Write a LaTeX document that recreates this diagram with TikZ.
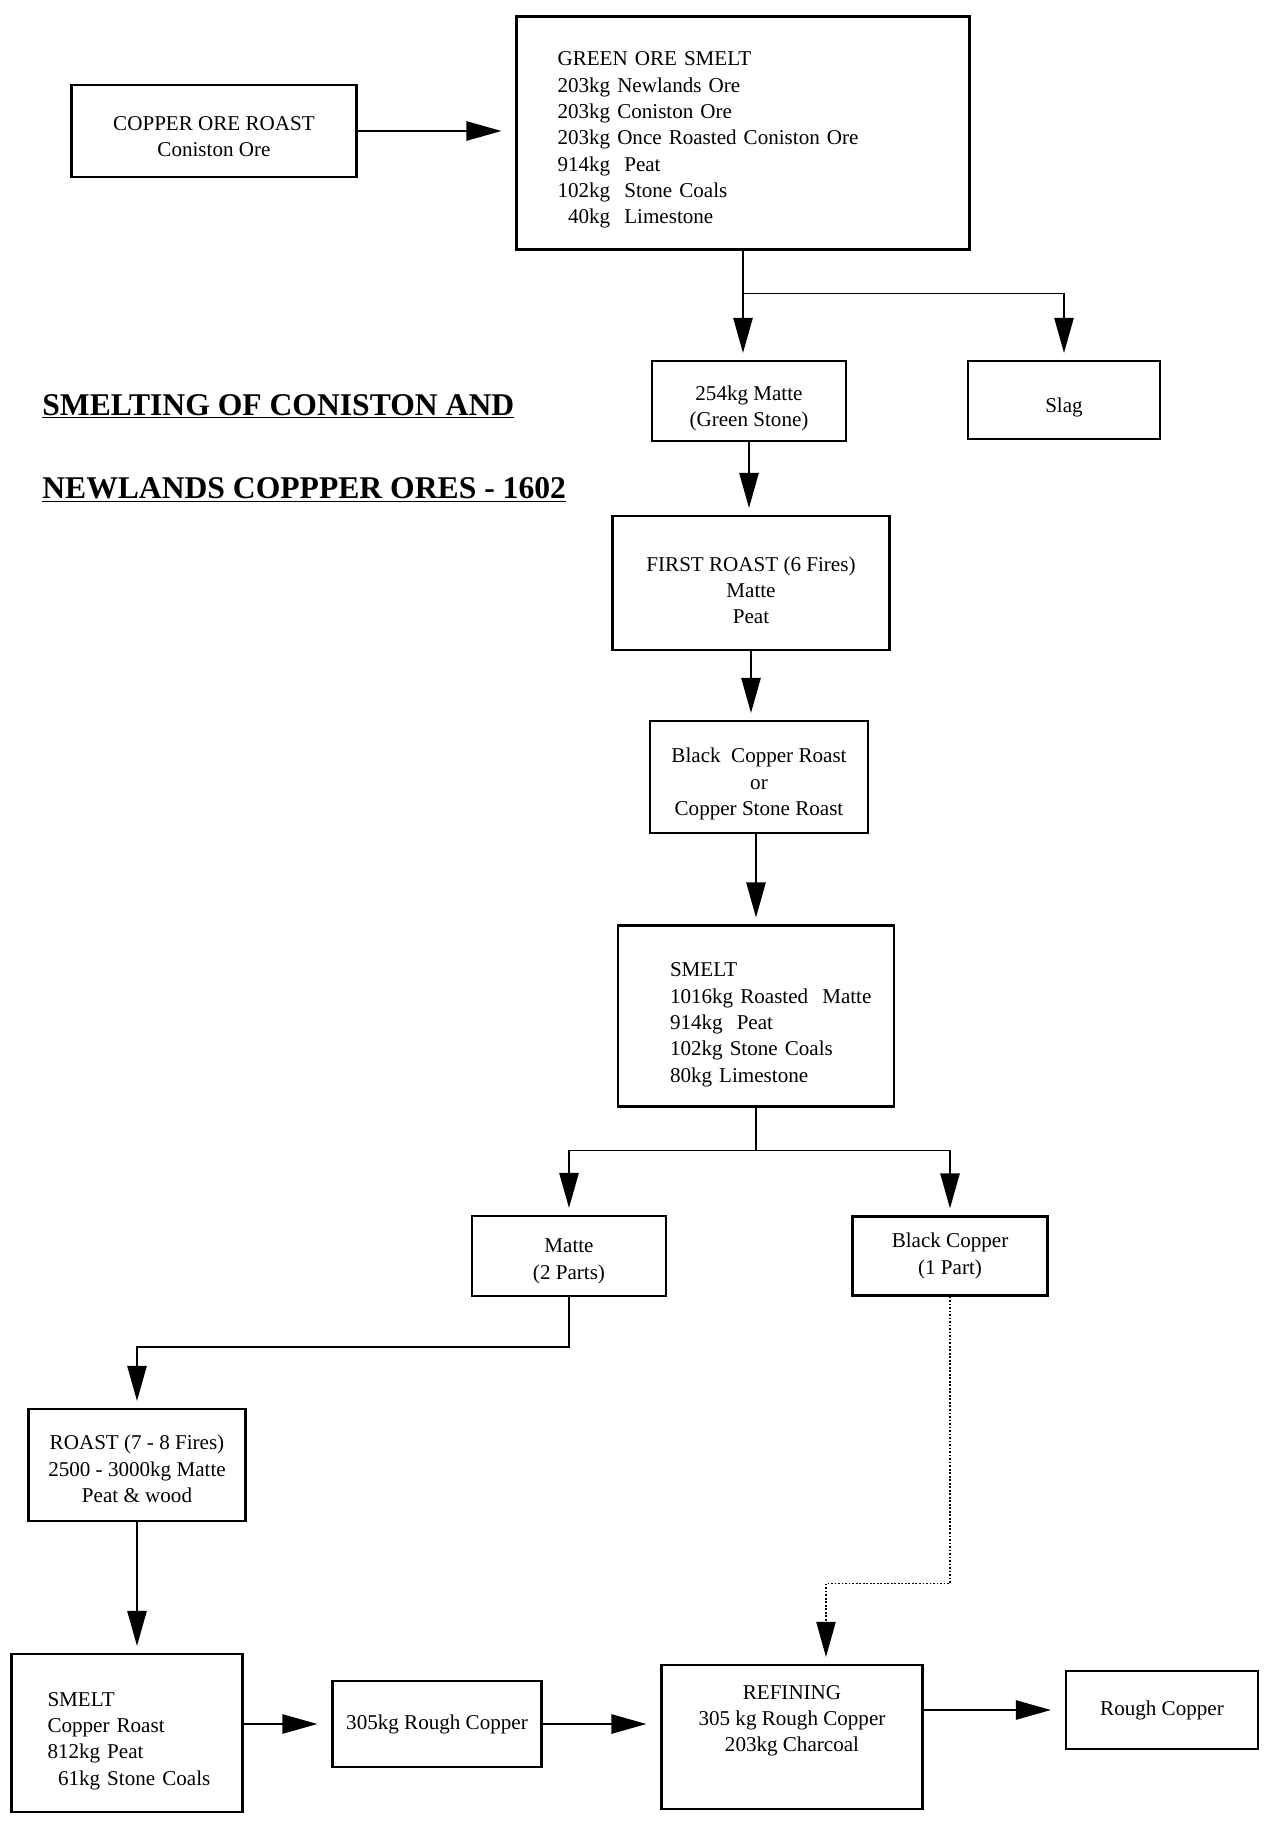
\documentclass[tikz,border=0pt]{standalone}
\usepackage{fontspec}
\setmainfont{Liberation Serif}
\usetikzlibrary{arrows.meta,positioning,calc}

\begin{document}
\begin{tikzpicture}[x=0.02cm, y=-0.02cm,
    box/.style={draw, line width=1.2pt, align=center, inner sep=2pt, font=\fontsize{12}{15}\selectfont},
    listbox/.style={box, align=left},
    padtop/.style={execute at begin node={\mbox{}\\[#1]}},
    padtop/.default=0pt,
    arr/.style={-{Triangle[length=20pt, width=11pt]}, line width=1pt, shorten >=4pt},
    harr/.style={arr, shorten >=8pt},
    title/.style={anchor=base west, inner sep=0pt, font=\fontsize{18}{22}\selectfont\bfseries}
]
\useasboundingbox (0,0) rectangle (1265,1822);

\node[box, minimum width=5.7cm, minimum height=1.84cm] (roast) at (214,131) {\mbox{}\\[-1pt]COPPER ORE ROAST\\Coniston Ore};
\node[listbox, padtop=1pt, text width=7.42cm, inner xsep=0.82cm, minimum height=4.66cm] (greensmelt) at (743,133) {GREEN ORE SMELT\\203kg Newlands Ore\\203kg Coniston Ore\\203kg Once Roasted Coniston Ore\\914kg\ \ Peat\\102kg\ \ Stone Coals\\\phantom{1}40kg\ \ Limestone};
\node[box, minimum width=3.88cm, minimum height=1.6cm] (matte) at (749,401) {\mbox{}\\[1.5pt]254kg Matte\\(Green Stone)};
\node[box, minimum width=3.84cm, minimum height=1.56cm] (slag) at (1064,400) {\mbox{}\\[1.5pt]Slag};
\node[box, minimum width=5.54cm, minimum height=2.68cm] (firstroast) at (751,583) {\mbox{}\\[1.5pt]FIRST ROAST (6 Fires)\\Matte\\Peat};
\node[box, minimum width=4.36cm, minimum height=2.24cm] (bcroast) at (759,777) {\mbox{}\\[1.5pt]Black\ \ Copper Roast\\or\\Copper Stone Roast};
\node[listbox, padtop=3pt, text width=3.44cm, inner xsep=1.04cm, minimum height=3.62cm] (smelt) at (756,1016) {SMELT\\\mbox{1016kg Roasted\ \ Matte}\\914kg\ \ Peat\\102kg Stone Coals\\80kg Limestone};
\node[box, minimum width=3.88cm, minimum height=1.6cm] (matteparts) at (569,1256) {\mbox{}\\[-1pt]Matte\\(2 Parts)};
\node[box, minimum width=3.9cm, minimum height=1.58cm] (blackcopper) at (950,1256) {Black Copper\\(1 Part)};
\node[box, minimum width=4.34cm, minimum height=2.24cm] (roastfires) at (137,1465) {\mbox{}\\[-2pt]ROAST (7 - 8 Fires)\\2500 - 3000kg Matte\\Peat \& wood};
\node[listbox, padtop=2pt, text width=3.18cm, inner xsep=0.72cm, minimum height=3.16cm] (smeltcu) at (127,1733) {SMELT\\Copper Roast\\812kg Peat\\\mbox{\phantom{8}61kg Stone Coals}};
\node[box, minimum width=4.18cm, minimum height=1.72cm] (roughcu) at (437,1724) {305kg Rough Copper};
\node[box, minimum width=5.22cm, minimum height=2.88cm] (refining) at (792,1737) {REFINING\\305 kg Rough Copper\\203kg Charcoal\\[6pt]\mbox{}};
\node[box, minimum width=3.84cm, minimum height=1.56cm] (roughcopper) at (1162,1710) {Rough Copper};

\node[title] (titlea) at (42,415) {\underline{SMELTING OF CONISTON AND}};
\node[title] (titleb) at (42,498) {\underline{NEWLANDS COPPPER ORES - 1602}};

\draw[harr] (roast.east) -- (roast.east -| greensmelt.west);
\coordinate (gsplit) at ($(greensmelt.south)+(0,43)$);
\draw[arr] (greensmelt.south) -- (greensmelt.south |- matte.north);
\draw[arr] (gsplit) -| (slag.north);
\draw[arr] (matte.south) -- (matte.south |- firstroast.north);
\draw[arr] (firstroast.south) -- (firstroast.south |- bcroast.north);
\draw[arr] (smelt.north |- bcroast.south) -- (smelt.north);
\coordinate (ssplit) at ($(smelt.south)+(0,43)$);
\draw[line width=1pt] (smelt.south) -- (ssplit);
\draw[arr] (ssplit) -| (matteparts.north);
\draw[arr] (ssplit) -| (blackcopper.north);
\draw[arr] (matteparts.south) -- ++(0,50) -| (roastfires.north);
\draw[arr] (roastfires.south) -- (roastfires.south |- smeltcu.north);
\draw[harr] (smeltcu.east |- roughcu.west) -- (roughcu.west);
\draw[harr] (roughcu.east) -- (roughcu.east -| refining.west);
\draw[harr] (refining.east |- roughcopper.west) -- (roughcopper.west);
\draw[arr, densely dotted, line width=0.8pt] (blackcopper.south) -- ++(0,287) -| ($(refining.north)+(34,0)$);
\end{tikzpicture}
\end{document}
